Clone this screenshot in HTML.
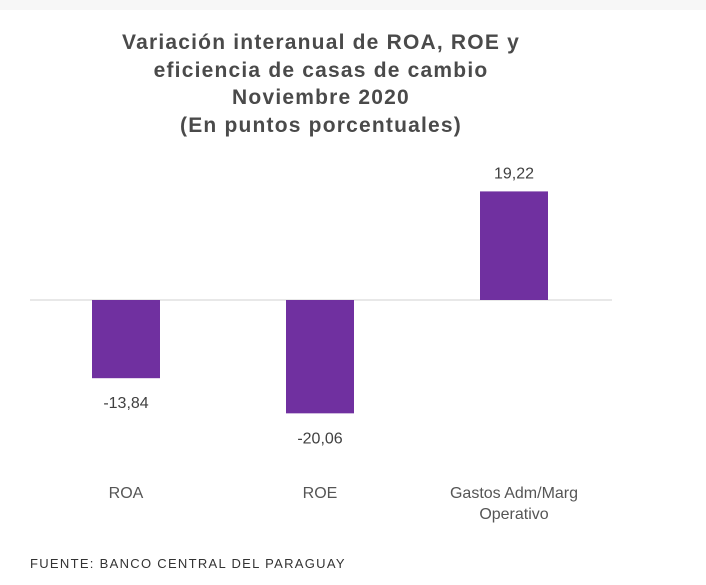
<!DOCTYPE html>
<html><head><meta charset="utf-8"><style>
body{margin:0;background:#fff;width:706px;height:585px;overflow:hidden;font-family:"Liberation Sans",sans-serif}
</style></head><body>
<div style="position:absolute;left:0;top:0;width:706px;height:10px;background:#f7f7f7"></div>
<svg width="706" height="585" style="position:absolute;left:0;top:0">
<g font-weight="bold" font-size="21" fill="#4a4a4a" text-anchor="middle" letter-spacing="1.2">
<text x="321" y="49">Variación interanual de ROA, ROE y</text>
<text x="321" y="77">eficiencia  de casas de cambio</text>
<text x="321" y="104">Noviembre  2020</text>
<text x="321" y="132">(En puntos porcentuales)</text>
</g>
<line x1="30" x2="612" y1="300" y2="300" stroke="#d0d0d0" stroke-width="1"/>
<g id="bars"></g>
<text x="30" y="568" font-size="13" letter-spacing="1.3" fill="#333">FUENTE: BANCO CENTRAL DEL PARAGUAY</text>
</svg>
<script>
const categories=[["ROA"],["ROE"],["Gastos Adm/Marg","Operativo"]];
const values=[-13.84,-20.06,19.22];
const valueLabels=["-13,84","-20,06","19,22"];
const g=document.getElementById('bars');
const NS='http://www.w3.org/2000/svg';
const zeroY=300, scale=5.65, left=30, band=194, barW=68;
function y(v){return zeroY-v*scale;}
function xc(i){return left+band*i+band/2-1;}
values.forEach((v,i)=>{
  const r=document.createElementNS(NS,'rect');
  
  
  r.setAttribute('x',xc(i)-barW/2);r.setAttribute('width',barW);
  r.setAttribute('y',Math.min(y(v),zeroY));r.setAttribute('height',Math.abs(y(v)-zeroY));
  r.setAttribute('fill','#7030a0');g.appendChild(r);
  const t=document.createElementNS(NS,'text');
  
  
  t.setAttribute('x',xc(i));t.setAttribute('y',v<0?y(v)+30:y(v)-13);
  t.setAttribute('text-anchor','middle');t.setAttribute('font-size','16');t.setAttribute('fill','#404040');
  t.textContent=valueLabels[i];g.appendChild(t);
  categories[i].forEach((line,j)=>{
    const c=document.createElementNS(NS,'text');
    
    
    c.setAttribute('x',xc(i));c.setAttribute('y',498+j*21);
    c.setAttribute('text-anchor','middle');c.setAttribute('font-size','16');c.setAttribute('fill','#555');
    c.textContent=line;g.appendChild(c);
  });
});
</script>
</body></html>
